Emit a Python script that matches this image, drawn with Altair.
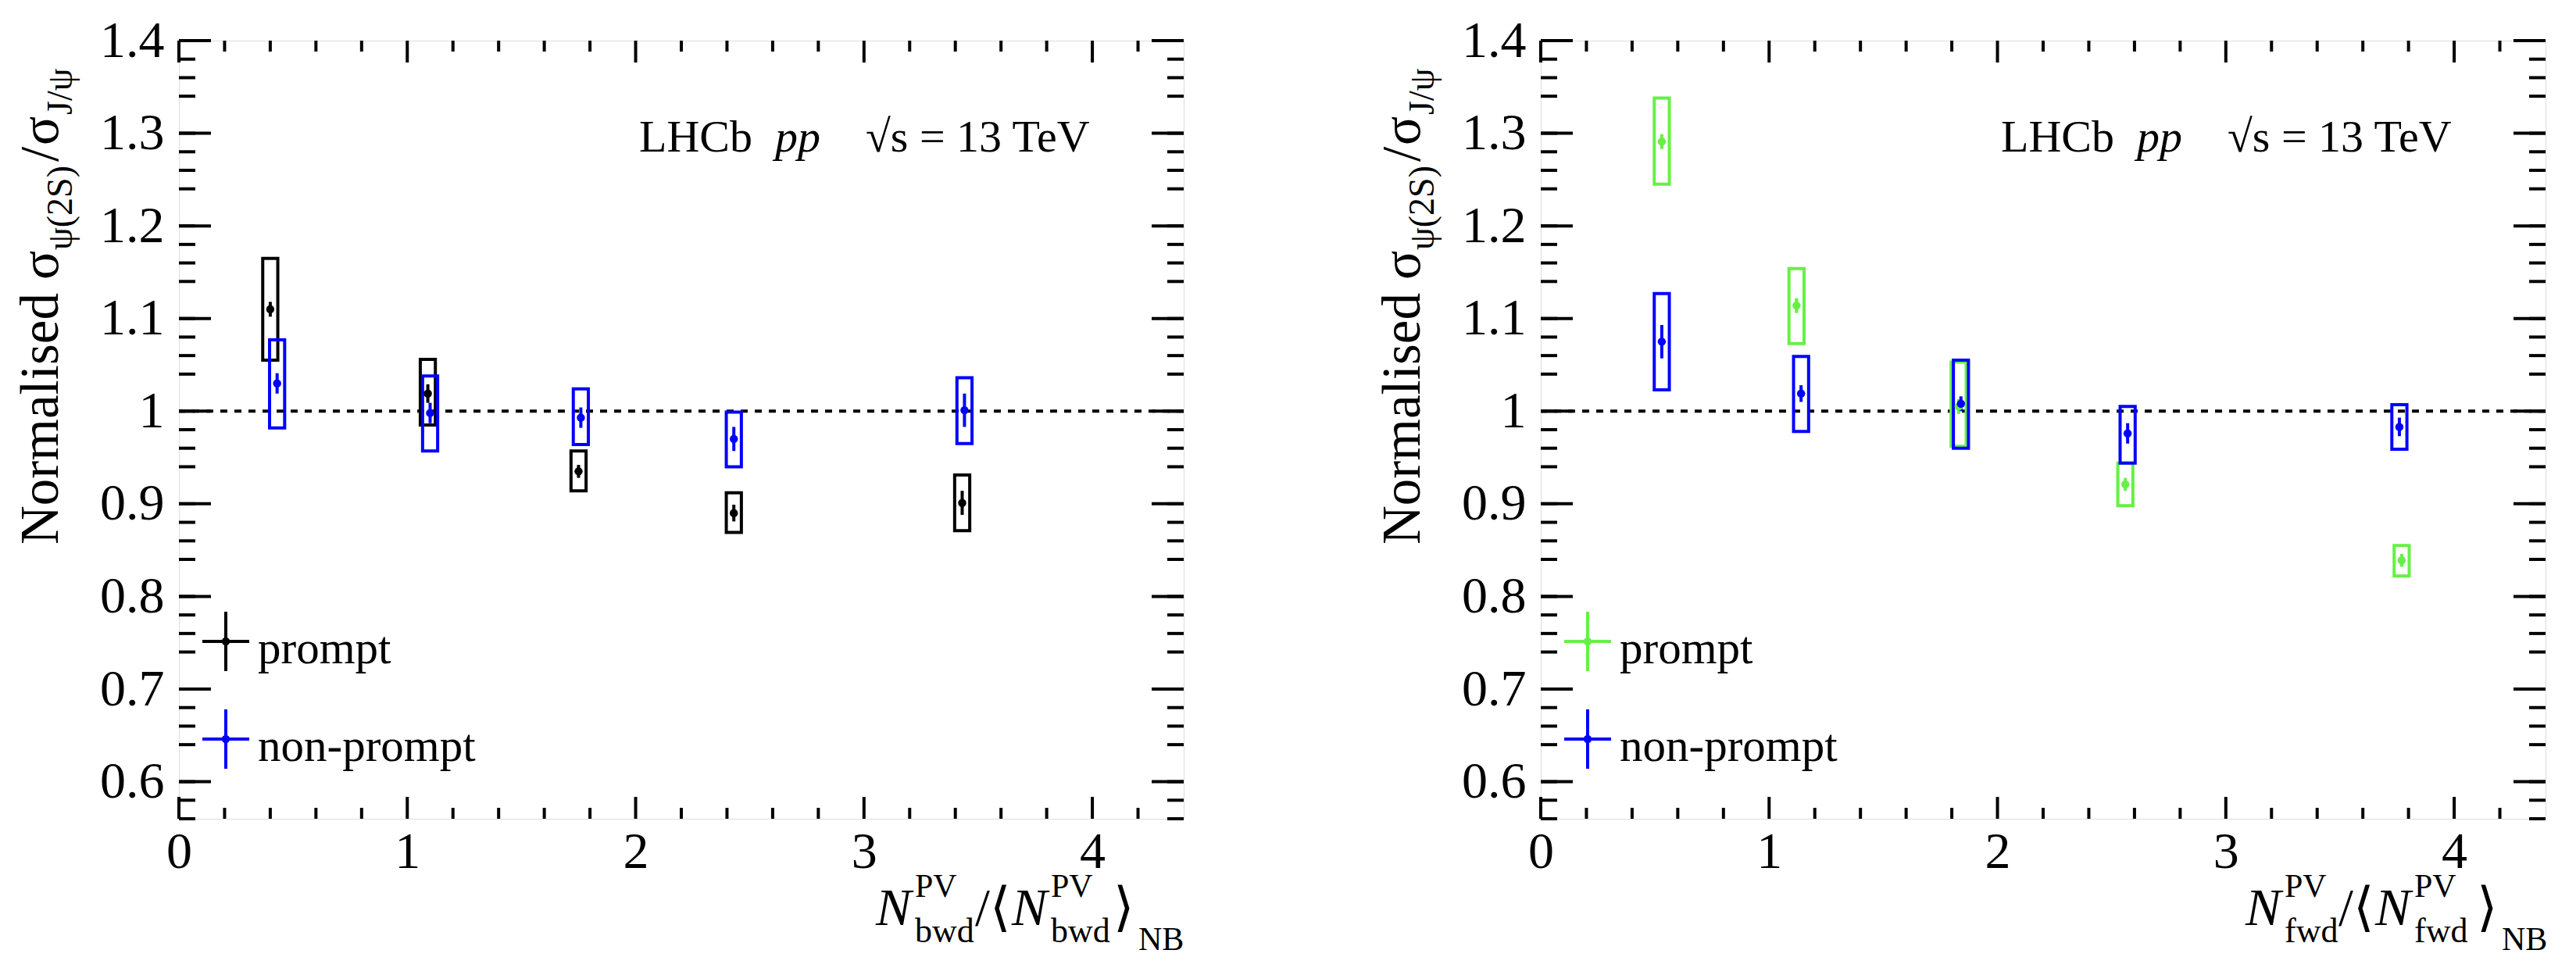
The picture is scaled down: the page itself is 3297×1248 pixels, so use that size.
import altair as alt
import pandas as pd

FONT = "Liberation Serif, Times New Roman, Times, serif"
BLACK = "#000000"
BLUE = "#0000ff"
GREEN = "#66f046"

# backward-multiplicity panel (left)
bwd_x_prompt = [0.40, 1.09, 1.75, 2.43, 3.43]
bwd_y_prompt = [1.110, 1.019, 0.935, 0.890, 0.901]
bwd_stat_prompt = [0.008, 0.010, 0.007, 0.009, 0.013]
bwd_syst_lo_prompt = [1.055, 0.985, 0.914, 0.869, 0.871]
bwd_syst_hi_prompt = [1.165, 1.056, 0.957, 0.912, 0.931]

bwd_x_nonprompt = [0.43, 1.10, 1.76, 2.43, 3.44]
bwd_y_nonprompt = [1.030, 0.998, 0.993, 0.970, 1.001]
bwd_stat_nonprompt = [0.011, 0.011, 0.011, 0.013, 0.018]
bwd_syst_lo_nonprompt = [0.982, 0.957, 0.964, 0.940, 0.965]
bwd_syst_hi_nonprompt = [1.077, 1.038, 1.024, 0.999, 1.036]

# forward-multiplicity panel (right)
fwd_x_prompt = [0.53, 1.12, 1.83, 2.56, 3.77]
fwd_y_prompt = [1.291, 1.114, 1.005, 0.921, 0.839]
fwd_stat_prompt = [0.008, 0.008, 0.008, 0.007, 0.007]
fwd_syst_lo_prompt = [1.245, 1.073, 0.962, 0.898, 0.822]
fwd_syst_hi_prompt = [1.338, 1.154, 1.053, 0.944, 0.855]

fwd_x_nonprompt = [0.53, 1.14, 1.84, 2.57, 3.76]
fwd_y_nonprompt = [1.075, 1.019, 1.008, 0.976, 0.983]
fwd_stat_nonprompt = [0.018, 0.009, 0.008, 0.011, 0.010]
fwd_syst_lo_nonprompt = [1.023, 0.978, 0.960, 0.944, 0.959]
fwd_syst_hi_nonprompt = [1.127, 1.059, 1.055, 1.005, 1.007]

series_names = ["prompt", "non-prompt"]

# axis ticks and labels
x_labels = [0, 1, 2, 3, 4]
x_minor = [0.2, 0.4, 0.6, 0.8, 1.2, 1.4, 1.6, 1.8, 2.2, 2.4, 2.6, 2.8,
           3.2, 3.4, 3.6, 3.8, 4.2]
y_labels = [0.6, 0.7, 0.8, 0.9, 1.0, 1.1, 1.2, 1.3, 1.4]
y_minor = [round(0.56 + 0.02 * i, 2) for i in range(43) if (i + 2) % 5]

W, H = 1286, 996
BOX_HALF = 0.033

xs = alt.Scale(domain=[0, 4.4], nice=False, zero=False)
ys = alt.Scale(domain=[0.56, 1.4], nice=False, zero=False)
x_axis = alt.Axis(values=x_labels, format="~g", title=None, ticks=False,
                  tickSize=0, domain=False, grid=False, labelFont=FONT,
                  labelFontSize=66, labelColor="black", labelPadding=10,
                  labelFlush=False)
y_axis = alt.Axis(values=y_labels, format="~g", title=None, ticks=False,
                  tickSize=0, domain=False, grid=False, labelFont=FONT,
                  labelFontSize=66, labelColor="black", labelPadding=19)


def X(f):
    return alt.X(f, type="quantitative", scale=xs, axis=x_axis)


def Y(f):
    return alt.Y(f, type="quantitative", scale=ys, axis=y_axis)


def frame(name, xv, yv, stat, lo, hi):
    return pd.DataFrame({"series": name, "x": xv, "y": yv, "stat": stat,
                         "lo": lo, "hi": hi})


def label(text, x, y, size, italic=False, angle=0):
    return (
        alt.Chart(alt.Data(values=[{}]))
        .mark_text(text=text, font=FONT, fontSize=size, color="black",
                   align="left", baseline="alphabetic", angle=angle,
                   fontStyle="italic" if italic else "normal")
        .encode(x=alt.value(x), y=alt.value(y))
    )


def panel(df, colors, xtitle):
    col = alt.Scale(domain=series_names, range=colors)
    base = alt.Chart(df).transform_calculate(
        xl=f"datum.x - {BOX_HALF}", xr=f"datum.x + {BOX_HALF}",
        elo="datum.y - datum.stat", ehi="datum.y + datum.stat",
    )
    unity = (
        alt.Chart(alt.Data(values=[{"one": 1.0}]))
        .mark_rule(color="black", strokeWidth=4, strokeDash=[9, 9])
        .encode(y=Y("one"))
    )
    boxes = base.mark_rect(fillOpacity=0, strokeWidth=4).encode(
        x=X("xl"), x2="xr:Q", y=Y("lo"), y2="hi:Q",
        stroke=alt.Stroke("series:N", scale=col, legend=None),
    )
    bars = base.mark_rule(strokeWidth=4).encode(
        x=X("x"), y=Y("elo"), y2="ehi:Q",
        color=alt.Color("series:N", scale=col, legend=None),
    )
    dots = base.mark_circle(size=110, opacity=1).encode(
        x=X("x"), y=Y("y"),
        color=alt.Color("series:N", scale=col, legend=None),
    )

    # inward ROOT-style ticks on all four sides
    def xticks(vals, length):
        d = alt.Data(values=[{"v": v} for v in vals])
        top = alt.Chart(d).mark_rule(color="black", strokeWidth=4).encode(
            x=X("v"), y=alt.value(0), y2=alt.value(length))
        bot = alt.Chart(d).mark_rule(color="black", strokeWidth=4).encode(
            x=X("v"), y=alt.value(H), y2=alt.value(H - length))
        return [top, bot]

    def yticks(vals, length):
        d = alt.Data(values=[{"v": v} for v in vals])
        lft = alt.Chart(d).mark_rule(color="black", strokeWidth=4).encode(
            y=Y("v"), x=alt.value(0), x2=alt.value(length))
        rgt = alt.Chart(d).mark_rule(color="black", strokeWidth=4).encode(
            y=Y("v"), x=alt.value(W), x2=alt.value(W - length))
        return [lft, rgt]

    ticks = (xticks(x_labels, 28) + xticks(x_minor, 14)
             + yticks(y_labels, 41) + yticks(y_minor, 21))

    # hand-drawn legend
    legend = []
    for i, (name, c) in enumerate(zip(series_names, colors)):
        cy = 769 + 125 * i
        one = alt.Data(values=[{}])
        legend.append(alt.Chart(one).mark_rule(color=c, strokeWidth=4).encode(
            x=alt.value(60), y=alt.value(cy - 38), y2=alt.value(cy + 38)))
        legend.append(alt.Chart(one).mark_rule(color=c, strokeWidth=4).encode(
            x=alt.value(30), x2=alt.value(90), y=alt.value(cy)))
        legend.append(alt.Chart(one).mark_circle(color=c, size=110, opacity=1)
                      .encode(x=alt.value(60), y=alt.value(cy)))
        legend.append(label(name, 101, cy + 28, 59))

    # y title: Normalised sigma_psi(2S) / sigma_J/psi, written bottom-to-top
    texts = [
        label("LHCb", 589, 142, 58),
        label("pp", 763, 142, 58, italic=True),
        label("√s = 13 TeV", 879, 142, 58),
        label("Normalised", -155, 645, 69, angle=270),
        label("σ", -155, 306, 69, angle=270),
        label("ψ(2S)", -137, 268, 46, angle=270),
        label("/", -155, 155, 69, angle=270),
        label("σ", -155, 134, 69, angle=270),
        label("J/ψ", -137, 95, 46, angle=270),
    ]
    for t, x, y, s, it in xtitle:
        texts.append(label(t, x, y, s, italic=it))

    return alt.layer(unity, *ticks, boxes, bars, dots, *legend, *texts).properties(
        width=W, height=H)


bwd = pd.concat([
    frame("prompt", bwd_x_prompt, bwd_y_prompt, bwd_stat_prompt,
          bwd_syst_lo_prompt, bwd_syst_hi_prompt),
    frame("non-prompt", bwd_x_nonprompt, bwd_y_nonprompt, bwd_stat_nonprompt,
          bwd_syst_lo_nonprompt, bwd_syst_hi_nonprompt),
])
fwd = pd.concat([
    frame("prompt", fwd_x_prompt, fwd_y_prompt, fwd_stat_prompt,
          fwd_syst_lo_prompt, fwd_syst_hi_prompt),
    frame("non-prompt", fwd_x_nonprompt, fwd_y_nonprompt, fwd_stat_nonprompt,
          fwd_syst_lo_nonprompt, fwd_syst_hi_nonprompt),
])

# x titles: N^PV_sub / <N^PV_sub>_NB, piece by piece
bwd_title = [
    ("N", 892, 1132, 68, True), ("PV", 942, 1096, 42, False),
    ("bwd", 942, 1154, 44, False), ("/", 1019, 1132, 68, False),
    ("⟨", 1038, 1132, 68, False), ("N", 1066, 1132, 68, True),
    ("PV", 1116, 1096, 42, False), ("bwd", 1116, 1154, 44, False),
    ("⟩", 1196, 1132, 68, False), ("NB", 1228, 1164, 42, False),
]
fwd_title = [
    ("N", 902, 1132, 68, True), ("PV", 952, 1096, 42, False),
    ("fwd", 952, 1154, 44, False), ("/", 1021, 1132, 68, False),
    ("⟨", 1040, 1132, 68, False), ("N", 1068, 1132, 68, True),
    ("PV", 1118, 1096, 42, False), ("fwd", 1118, 1154, 44, False),
    ("⟩", 1198, 1132, 68, False), ("NB", 1230, 1164, 42, False),
]

left = panel(bwd, [BLACK, BLUE], bwd_title)
right = panel(fwd, [GREEN, BLUE], fwd_title)

chart = (
    alt.hconcat(left, right, spacing=243)
    .resolve_scale(color="independent", stroke="independent")
    .configure_view(stroke="black", strokeWidth=4)
    .configure(padding={"left": 10, "top": 10, "right": 10, "bottom": 10},
               background="white")
)

chart.save("out.html", embed_options={"renderer": "svg", "actions": False})
